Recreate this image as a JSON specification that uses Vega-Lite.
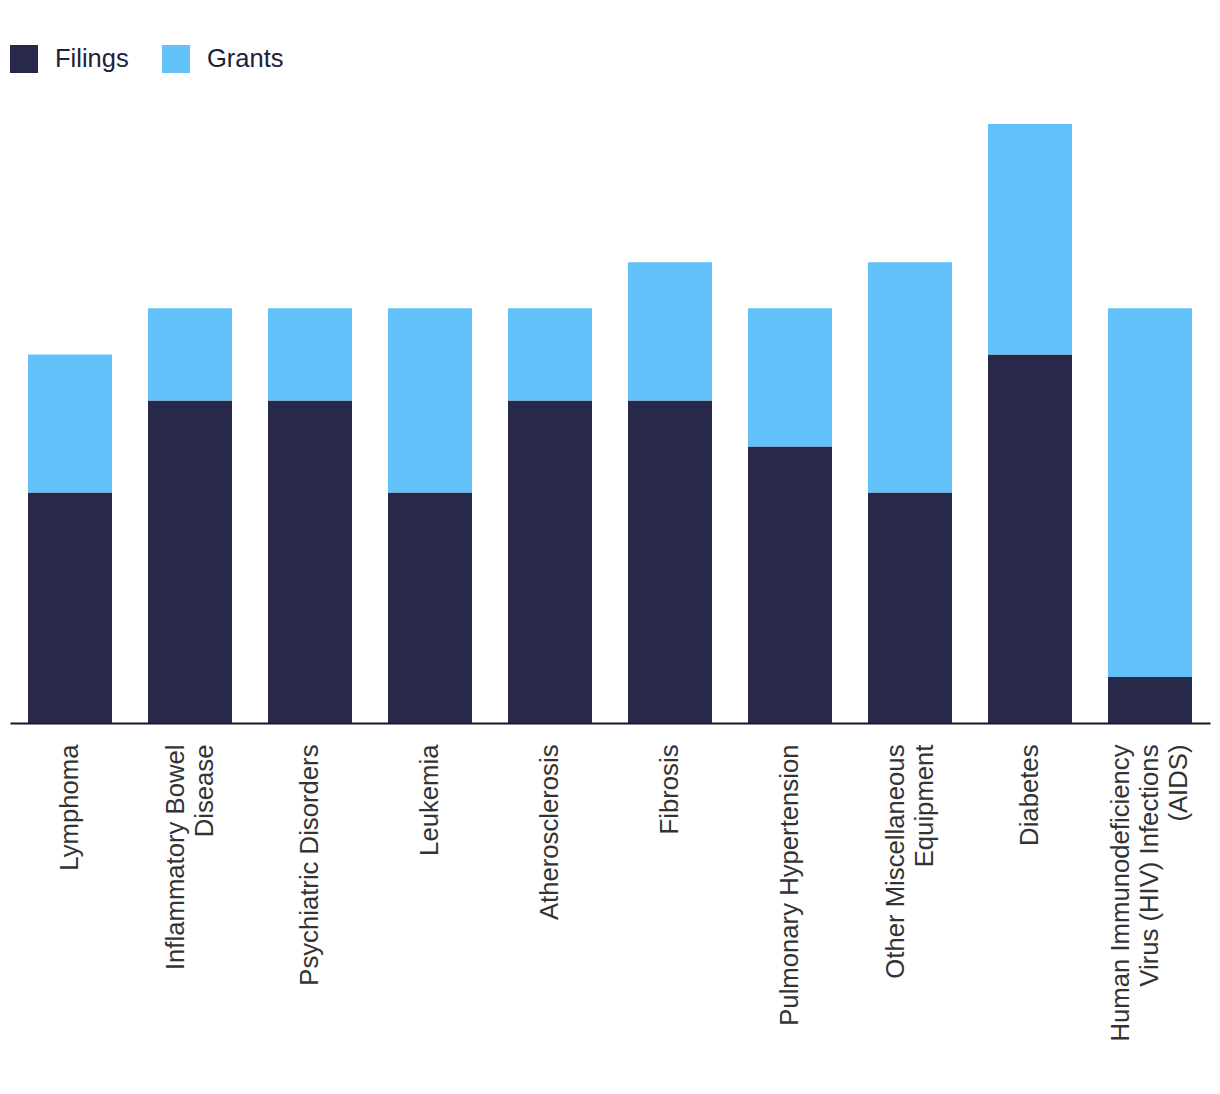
{
  "$schema": "https://vega.github.io/schema/vega-lite/v6.json",
  "width": 1200,
  "height": 599,
  "autosize": {"type": "none"},
  "padding": {"left": 10, "top": 124, "right": 10, "bottom": 371},
  "background": "white",
  "config": {
    "view": {"stroke": null},
    "font": "Liberation Sans"
  },
  "data": {
    "values": [
      {"disease": "Lymphoma", "type": "Filings", "count": 5},
      {"disease": "Lymphoma", "type": "Grants", "count": 3},
      {"disease": "Inflammatory Bowel Disease", "type": "Filings", "count": 7},
      {"disease": "Inflammatory Bowel Disease", "type": "Grants", "count": 2},
      {"disease": "Psychiatric Disorders", "type": "Filings", "count": 7},
      {"disease": "Psychiatric Disorders", "type": "Grants", "count": 2},
      {"disease": "Leukemia", "type": "Filings", "count": 5},
      {"disease": "Leukemia", "type": "Grants", "count": 4},
      {"disease": "Atherosclerosis", "type": "Filings", "count": 7},
      {"disease": "Atherosclerosis", "type": "Grants", "count": 2},
      {"disease": "Fibrosis", "type": "Filings", "count": 7},
      {"disease": "Fibrosis", "type": "Grants", "count": 3},
      {"disease": "Pulmonary Hypertension", "type": "Filings", "count": 6},
      {"disease": "Pulmonary Hypertension", "type": "Grants", "count": 3},
      {"disease": "Other Miscellaneous Equipment", "type": "Filings", "count": 5},
      {"disease": "Other Miscellaneous Equipment", "type": "Grants", "count": 5},
      {"disease": "Diabetes", "type": "Filings", "count": 8},
      {"disease": "Diabetes", "type": "Grants", "count": 5},
      {"disease": "Human Immunodeficiency Virus (HIV) Infections (AIDS)", "type": "Filings", "count": 1},
      {"disease": "Human Immunodeficiency Virus (HIV) Infections (AIDS)", "type": "Grants", "count": 8}
    ]
  },
  "mark": {"type": "bar"},
  "encoding": {
    "x": {
      "field": "disease",
      "type": "nominal",
      "sort": null,
      "scale": {"paddingInner": 0.3, "paddingOuter": 0.15},
      "axis": {
        "title": null,
        "ticks": false,
        "domainColor": "#14142a",
        "domainWidth": 2,
        "labelAngle": -90,
        "labelAlign": "right",
        "labelBaseline": "middle",
        "labelPadding": 21,
        "labelFontSize": 25.7,
        "labelLineHeight": 29,
        "labelColor": "#333333",
        "labelLimit": 500,
        "labelOffset": {
          "condition": [
            {"test": "datum.value == 'Human Immunodeficiency Virus (HIV) Infections (AIDS)'", "value": -29},
            {"test": "datum.value == 'Inflammatory Bowel Disease' || datum.value == 'Other Miscellaneous Equipment'", "value": -14.5}
          ],
          "value": 0
        },
        "labelExpr": "datum.value == 'Inflammatory Bowel Disease' ? ['Inflammatory Bowel', 'Disease'] : datum.value == 'Other Miscellaneous Equipment' ? ['Other Miscellaneous', 'Equipment'] : datum.value == 'Human Immunodeficiency Virus (HIV) Infections (AIDS)' ? ['Human Immunodeficiency', 'Virus (HIV) Infections', '(AIDS)'] : datum.value"
      }
    },
    "y": {
      "field": "count",
      "type": "quantitative",
      "stack": "zero",
      "scale": {"domain": [0, 13], "nice": false},
      "axis": null
    },
    "order": {"field": "type", "sort": "ascending"},
    "color": {
      "field": "type",
      "type": "nominal",
      "scale": {"domain": ["Filings", "Grants"], "range": ["#27284a", "#62c1f9"]},
      "legend": {
        "title": null,
        "orient": "none",
        "legendX": 0,
        "legendY": -79,
        "direction": "horizontal",
        "symbolType": "square",
        "symbolSize": 784,
        "symbolStrokeWidth": 0,
        "symbolOpacity": 1,
        "labelFontSize": 25.5,
        "labelColor": "#20213a",
        "labelOffset": 17,
        "columnPadding": 33,
        "padding": 0
      }
    }
  }
}
